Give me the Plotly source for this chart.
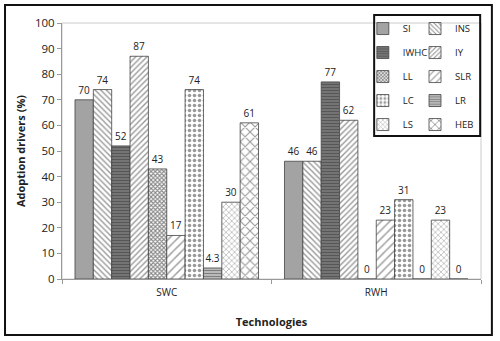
import plotly.graph_objects as go

# ---- data ----
categories = ["SWC", "RWH"]
SI = [70, 46]
INS = [74, 46]
IWHC = [52, 77]
IY = [87, 62]
LL = [43, 0]
SLR = [17, 23]
LC = [74, 31]
LR = [4.3, 0]
LS = [30, 23]
HEB = [61, 0]
series_names = ["SI", "INS", "IWHC", "IY", "LL", "SLR", "LC", "LR", "LS", "HEB"]
series_values = [SI, INS, IWHC, IY, LL, SLR, LC, LR, LS, HEB]
y_ticks = list(range(0, 101, 10))

# ---- styles (pattern fills approximating the grayscale hatching) ----
styles = {
    "SI":   dict(color="#a3a3a3", pattern=dict(shape="")),
    "INS":  dict(color="#ffffff", pattern=dict(shape="\\", fgcolor="#333333", bgcolor="#ffffff", size=4, solidity=0.35)),
    "IWHC": dict(color="#666666", pattern=dict(shape="-", fgcolor="#333333", bgcolor="#7a7a7a", size=3, solidity=0.45)),
    "IY":   dict(color="#ffffff", pattern=dict(shape="/", fgcolor="#333333", bgcolor="#ffffff", size=4, solidity=0.35)),
    "LL":   dict(color="#ffffff", pattern=dict(shape="x", fgcolor="#111111", bgcolor="#ffffff", size=3, solidity=0.6)),
    "SLR":  dict(color="#ffffff", pattern=dict(shape="/", fgcolor="#444444", bgcolor="#ffffff", size=6, solidity=0.25)),
    "LC":   dict(color="#ffffff", pattern=dict(shape=".", fgcolor="#333333", bgcolor="#ffffff", size=5, solidity=0.4)),
    "LR":   dict(color="#000000", pattern=dict(shape="-", fgcolor="#000000", bgcolor="#ffffff", size=3, solidity=0.7)),
    "LS":   dict(color="#ffffff", pattern=dict(shape="x", fgcolor="#555555", bgcolor="#ffffff", size=4, solidity=0.3)),
    "HEB":  dict(color="#ffffff", pattern=dict(shape="x", fgcolor="#333333", bgcolor="#ffffff", size=7, solidity=0.3)),
}
left_col = ["SI", "IWHC", "LL", "LC", "LS"]

FONT = "Open Sans"

fig = go.Figure()
for name, vals in zip(series_names, series_values):
    st = styles[name]
    marker = dict(color=st["color"], line=dict(color="#444444", width=0.8))
    if st["pattern"]["shape"]:
        marker["pattern"] = st["pattern"]
    fig.add_trace(go.Bar(
        name=name, x=categories, y=vals,
        marker=marker,
        text=[("%g" % v) for v in vals],
        textposition="outside",
        textfont=dict(size=10, color="#222222", family=FONT),
        cliponaxis=False,
        legend="legend" if name in left_col else "legend2",
        legendgroup=name,
    ))

legend_common = dict(
    font=dict(size=9.5, color="#222222", family=FONT),
    bgcolor="rgba(0,0,0,0)", borderwidth=0,
    traceorder="grouped", tracegroupgap=5,
    xanchor="left", yanchor="top", itemwidth=30,
)

fig.update_layout(
    width=500, height=341,
    margin=dict(l=62, r=19, t=23, b=62),
    paper_bgcolor="white", plot_bgcolor="white",
    barmode="group", bargap=0.124, bargroupgap=0,
    font=dict(family=FONT, color="#222222"),
    showlegend=True,
    legend=dict(x=0.718, y=1.035, **legend_common),
    legend2=dict(x=0.8425, y=1.035, **legend_common),
    xaxis=dict(
        type="category", tickson="boundaries",
        ticks="outside", ticklen=4, tickcolor="#999999",
        showline=True, linecolor="#999999", linewidth=1,
        showgrid=False,
        ticklabelstandoff=4,
        tickfont=dict(size=10, family=FONT),
        title=dict(text="<b>Technologies</b>", font=dict(size=11, family=FONT), standoff=20),
    ),
    yaxis=dict(
        range=[0, 100], tickvals=y_ticks,
        ticks="outside", ticklen=4, tickcolor="#999999",
        showline=True, linecolor="#999999", linewidth=1,
        showgrid=False, zeroline=False,
        tickfont=dict(size=11.5, family=FONT),
        title=dict(text="<b>Adoption drivers (%)</b>", font=dict(size=11, family=FONT), standoff=7),
    ),
    shapes=[
        # light plot-area frame (top/right)
        dict(type="rect", xref="paper", yref="paper", x0=0, x1=1, y0=0, y1=1,
             line=dict(color="#cccccc", width=1), layer="below"),
        # outer chart frame
        dict(type="rect", xref="paper", yref="paper", x0=-0.136, x1=1.026, y0=-0.219, y1=1.070,
             line=dict(color="#111111", width=2)),
        # legend box
        dict(type="rect", xref="paper", yref="paper", x0=0.745, x1=0.998, y0=0.559, y1=1.031,
             line=dict(color="#111111", width=2)),
    ],
)

fig.write_html("out.html")
